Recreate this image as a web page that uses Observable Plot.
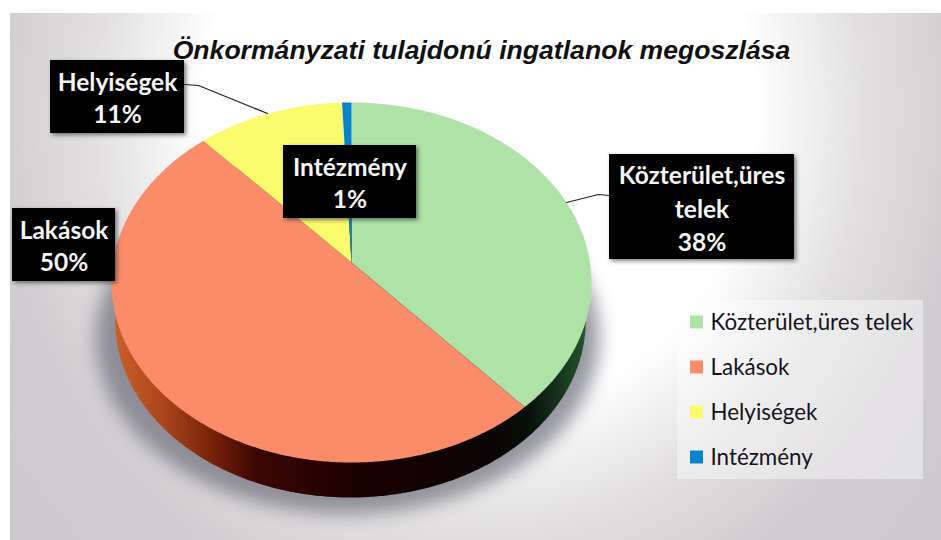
<!DOCTYPE html>
<html lang="hu">
<head>
<meta charset="utf-8">
<script src="https://cdn.jsdelivr.net/npm/d3@7"></script>
<script src="https://cdn.jsdelivr.net/npm/@observablehq/plot@0.6"></script>
<style>
html,body{margin:0;padding:0;background:#fff;}
svg{display:block;background:transparent;}
</style>
</head>
<body>
<div id="chart"></div>
<script>
// ---- data
const chartTitle = "Önkormányzati tulajdonú ingatlanok megoszlása";
const categories = ["Közterület,üres telek", "Lakások", "Helyiségek", "Intézmény"];
const shares = [38.4, 49.9, 11, 0.7];
const calloutNames = ["Közterület,üres\ntelek", "Lakások", "Helyiségek", "Intézmény"];
const sliceColors = ["#aee2a6", "#fb8c6a", "#fbfb6e", "#0a84c8"];

// ---- layout
const W = 941, H = 540;
const pie = {cx: 351, cy: 262, A: 177.8, B: 238.5, k: 1 / 9};
const wall = {scale: 0.98, dx: -1, dy: 38.6, ecy: 282};
const calloutBoxes = [
  {x1: 609, x2: 794, y1: 154, y2: 259, size: 24.5, lh: 33.5},
  {x1: 12, x2: 115, y1: 208, y2: 281, size: 24.5, lh: 32},
  {x1: 50, x2: 184, y1: 60, y2: 133, size: 24.5, lh: 32},
  {x1: 283, x2: 416, y1: 145, y2: 218, size: 24.5, lh: 32}
];
const leaders = [
  {id: "a", pts: [[566, 202], [598, 194], [609, 195]]},
  {id: "b", pts: [[184, 84], [198, 85], [267, 113]]}
];
const legendBox = {x1: 677, x2: 923, y1: 300, y2: 479};
const legendY = [322, 367, 412, 457];

// ---- geometry built from the shares
function project(f) {
  const t = 2 * Math.PI * f, sx = Math.sin(t), sy = Math.cos(t), d = 1 + pie.k * sy;
  return [pie.cx + pie.B * sx / d, pie.cy - pie.A * sy / d];
}
const STEP = 1 / 720;
const slicePts = [];
let acc = 0;
const total = d3.sum(shares);
categories.forEach((c, i) => {
  const f0 = acc / total, f1 = (acc + shares[i]) / total;
  slicePts.push({c, x: pie.cx, y: pie.cy});
  for (let f = f0; ; f += STEP) {
    const ff = Math.min(f, f1), [x, y] = project(ff);
    slicePts.push({c, x, y});
    if (ff === f1) break;
  }
  acc += shares[i];
});
const rimPts = d3.range(0, 1 + STEP, STEP).map(f => {
  const [x, y] = project(f);
  return {
    x: pie.cx + wall.dx + (x - pie.cx) * wall.scale,
    y: wall.ecy + wall.dy + (y - wall.ecy) * wall.scale
  };
});
const shadowPts = rimPts.map(p => ({
  x: pie.cx - 3 + (p.x - pie.cx) * 1.07,
  y: 337 + (p.y - 320.6)
}));

// gradients used as plain fills
function defs() {
  const ns = "http://www.w3.org/2000/svg";
  const g = document.createElementNS(ns, "g");
  g.innerHTML = `<defs>
    <radialGradient id="bg" gradientUnits="userSpaceOnUse" cx="0" cy="0" r="1.25"
      gradientTransform="translate(480 110) scale(480 520)">
      <stop offset="0" stop-color="#ffffff"/><stop offset=".46" stop-color="#ffffff"/>
      <stop offset=".64" stop-color="#e2e0e0"/><stop offset=".8" stop-color="#d1ced1"/>
      <stop offset="1" stop-color="#cbc9ce"/>
    </radialGradient>
    <linearGradient id="wallFill" x1="0" x2="1" y1="0" y2="0">
      <stop offset="0" stop-color="#c8602a"/><stop offset=".1" stop-color="#ab461c"/>
      <stop offset=".2" stop-color="#7a2408"/><stop offset=".3" stop-color="#3c0604"/>
      <stop offset=".5" stop-color="#1c0000"/><stop offset=".8" stop-color="#0a0303"/>
      <stop offset=".88" stop-color="#07100a"/><stop offset="1" stop-color="#24542b"/>
    </linearGradient></defs>`;
  return g;
}

const calloutRows = categories.map((c, i) => ({
  c,
  ...calloutBoxes[i],
  label: calloutNames[i] + "\n" + Math.round(shares[i]) + "%"
}));
const legendRows = categories.map((c, i) => ({c, y: legendY[i]}));

const xy = {x: "x", y: "y"};
const chart = Plot.plot({
  width: W, height: H,
  margin: 0,
  x: {domain: [0, W], range: [0, W], axis: null},
  y: {domain: [0, H], range: [0, H], axis: null},
  color: {domain: categories, range: sliceColors},
  style: {fontFamily: "Lato, sans-serif", background: "transparent"},
  marks: [
    defs,
    Plot.rect([{x1: 10, x2: W, y1: 13, y2: H}], {x1: "x1", x2: "x2", y1: "y1", y2: "y2", fill: "url(#bg)"}),
    Plot.line(shadowPts, {...xy, fill: "#70707e", fillOpacity: 0.72, stroke: "none", imageFilter: "blur(9px)"}),
    Plot.line(rimPts, {...xy, fill: "url(#wallFill)", stroke: "none"}),
    Plot.line(slicePts, {...xy, z: "c", fill: "c", stroke: "none"}),
    ...leaders.map(l => Plot.line(l.pts, {x: d => d[0], y: d => d[1], stroke: "#222", strokeWidth: 1.2})),
    Plot.rect(calloutRows, {x1: "x1", x2: "x2", y1: "y1", y2: "y2", fill: "#000",
      imageFilter: "drop-shadow(2px 2px 2px rgba(40,40,50,.6))"}),
    ...calloutRows.map(r => Plot.text([r], {
      x: d => (d.x1 + d.x2) / 2, y: d => (d.y1 + d.y2) / 2, text: "label",
      fill: "#f4f4f4", fontWeight: 700, fontSize: r.size, lineHeight: r.lh / r.size, lineAnchor: "middle"
    })),
    Plot.text([{t: chartTitle, x: 481, y: 50}], {
      ...xy, text: "t", fill: "#111", fontFamily: "Liberation Sans, Arial, sans-serif",
      fontStyle: "italic", fontWeight: 700, fontSize: 26.6
    }),
    Plot.rect([legendBox], {x1: "x1", x2: "x2", y1: "y1", y2: "y2", fill: "#fff", fillOpacity: 0.42}),
    Plot.rect(legendRows, {x1: () => 690, x2: () => 703, y1: d => d.y - 6.5, y2: d => d.y + 6.5, fill: "c"}),
    Plot.text(legendRows, {x: () => 710, y: "y", text: "c", fill: "#14141e", textAnchor: "start", fontSize: 22.4})
  ]
});
document.getElementById("chart").append(chart);
</script>
</body>
</html>
